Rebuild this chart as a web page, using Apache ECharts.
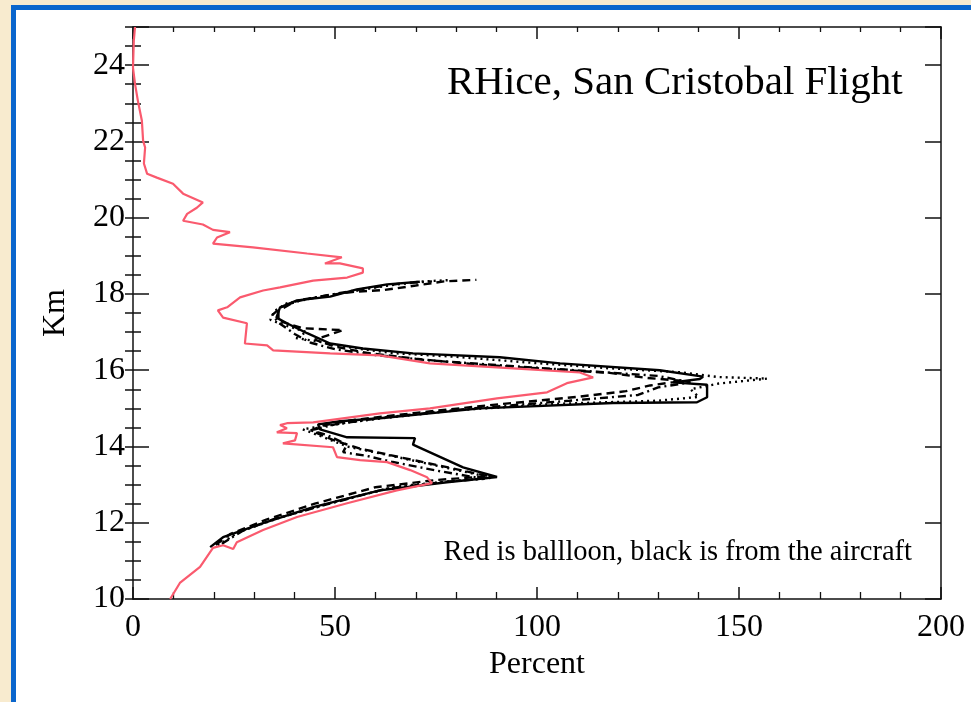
<!DOCTYPE html>
<html>
<head>
<meta charset="utf-8">
<title>RHice, San Cristobal Flight</title>
<script src="https://cdn.jsdelivr.net/npm/echarts@6/dist/echarts.min.js"></script>
<style>
  html, body { margin: 0; padding: 0; }
  body { width: 971px; height: 702px; background: #f8ebcf; position: relative; overflow: hidden; }
  #frame { position: absolute; left: 11px; top: 5px; right: 0; bottom: 0; background: #fff;
           border-left: 5px solid #0b66cc; border-top: 5px solid #0b66cc; }
  #chart { position: absolute; left: 0; top: 0; width: 971px; height: 702px; }
</style>
</head>
<body>
<div id="frame"></div>
<div id="chart"></div>
<script>
// [percent, km] pairs, bottom to top
const balloon = [
  [9.2, 10.0], [11.6, 10.42], [16.6, 10.84], [19.8, 11.34], [22.3, 11.41], [24.8, 11.31], [25.7, 11.49],
  [32.2, 11.81], [40.6, 12.15], [53.0, 12.51], [65.3, 12.85], [74.0, 13.04], [72.8, 13.19], [68.6, 13.38],
  [62.9, 13.59], [56.2, 13.64], [50.5, 13.72], [49.5, 13.98], [37.1, 14.08], [40.1, 14.16], [40.6, 14.35],
  [35.6, 14.37], [38.1, 14.48], [36.4, 14.56], [38.1, 14.61], [44.6, 14.63], [61.1, 14.87], [73.5, 15.0],
  [90.1, 15.26], [102.5, 15.42], [107.4, 15.66], [113.9, 15.81], [110.6, 15.94], [94.1, 16.05], [73.5, 16.18],
  [61.1, 16.39], [48.8, 16.44], [34.7, 16.52], [33.2, 16.65], [27.7, 16.70], [28.2, 17.23], [22.3, 17.38],
  [21.0, 17.57], [23.3, 17.65], [26.5, 17.91], [32.2, 18.09], [36.4, 18.17], [44.6, 18.35], [53.0, 18.43],
  [56.9, 18.56], [56.9, 18.67], [51.2, 18.80], [47.5, 18.8], [51.7, 18.96], [43.1, 19.06], [29.7, 19.22],
  [19.8, 19.32], [20.8, 19.48], [24.0, 19.62], [19.8, 19.68], [17.3, 19.82], [12.4, 19.92], [13.4, 20.1],
  [15.8, 20.26], [17.3, 20.40], [12.4, 20.63], [9.9, 20.89], [5.9, 21.05], [3.5, 21.15], [2.7, 21.42],
  [3.0, 21.84], [2.5, 22.02], [2.2, 22.54], [1.2, 23.07], [0.5, 23.51], [0.0, 23.93], [0.2, 24.64], [0.5, 25.0]
];

const aircraftSolid = [
  [19.1, 11.36], [22.3, 11.62], [32.2, 11.99], [44.6, 12.41], [61.1, 12.85], [77.7, 13.06], [90.1, 13.2],
  [81.7, 13.45], [69.3, 14.05], [69.8, 14.22], [53.0, 14.24], [46.3, 14.45], [45.8, 14.58], [51.2, 14.66],
  [61.1, 14.74], [85.9, 15.0], [118.8, 15.14], [139.6, 15.16], [142.1, 15.29], [142.1, 15.62], [133.7, 15.68],
  [140.3, 15.77], [141.1, 15.83], [130.4, 16.0], [105.7, 16.18], [90.8, 16.34], [69.3, 16.44], [56.9, 16.57],
  [48.8, 16.70], [43.1, 16.97], [38.1, 17.23], [35.5, 17.38], [36.4, 17.65], [40.6, 17.83], [48.8, 17.93],
  [55.4, 18.12], [62.9, 18.25], [71.0, 18.32]
];

const aircraftDashed = [
  [20.5, 11.42], [24.0, 11.7], [33.0, 12.08], [45.0, 12.5], [60.0, 12.93], [75.0, 13.12], [88.0, 13.22],
  [78.0, 13.45], [66.0, 13.72], [56.0, 13.95], [50.0, 14.15], [44.0, 14.42], [47.0, 14.55], [55.0, 14.7],
  [70.0, 14.88], [88.0, 15.08], [110.0, 15.3], [122.0, 15.45], [128.0, 15.6], [136.0, 15.72], [127.0, 15.8],
  [118.0, 15.93], [100.0, 16.05], [85.0, 16.15], [70.0, 16.3], [58.0, 16.45], [50.0, 16.62], [45.0, 16.8],
  [52.0, 17.05], [42.0, 17.1], [36.0, 17.3], [36.0, 17.55], [40.0, 17.8], [48.0, 17.96], [55.0, 18.06],
  [62.0, 18.1], [70.0, 18.22], [77.0, 18.33], [85.0, 18.37]
];

const aircraftDotted = [
  [21.0, 11.4], [26.0, 11.75], [36.0, 12.12], [50.0, 12.55], [65.0, 12.95], [80.0, 13.1], [89.0, 13.18],
  [75.0, 13.5], [62.0, 13.8], [53.0, 14.0], [47.0, 14.25], [42.0, 14.45], [48.0, 14.55], [60.0, 14.72],
  [80.0, 14.95], [105.0, 15.12], [130.0, 15.2], [140.0, 15.3], [138.0, 15.5], [145.0, 15.65], [157.0, 15.78],
  [145.0, 15.82], [135.0, 15.95], [118.0, 16.05], [98.0, 16.2], [80.0, 16.35], [64.0, 16.45], [52.0, 16.62],
  [46.0, 16.75], [40.0, 16.85], [43.0, 17.0], [37.0, 17.2], [34.0, 17.32], [35.0, 17.55], [38.0, 17.75],
  [45.0, 17.9], [55.0, 18.08], [63.0, 18.22], [72.0, 18.33], [78.0, 18.36]
];

const aircraftDashDot = [
  [22.0, 11.45], [27.0, 11.78], [35.0, 12.1], [48.0, 12.48], [63.0, 12.9], [78.0, 13.08], [87.0, 13.15],
  [76.0, 13.35], [64.0, 13.6], [58.0, 13.75], [52.0, 13.85], [53.0, 14.05], [48.0, 14.3], [44.0, 14.42],
  [50.0, 14.58], [62.0, 14.76], [82.0, 14.98], [108.0, 15.2], [125.0, 15.35], [130.0, 15.55], [138.0, 15.68],
  [130.0, 15.85], [112.0, 15.98], [92.0, 16.12], [72.0, 16.27], [60.0, 16.4], [50.0, 16.55], [44.0, 16.72],
  [40.0, 16.95], [36.0, 17.25], [34.5, 17.45], [37.0, 17.68], [42.0, 17.85], [50.0, 18.0], [58.0, 18.15],
  [66.0, 18.27], [74.0, 18.33]
];

const titleText = 'RHice, San Cristobal Flight';
const noteText = 'Red is ballloon, black is from the aircraft';

const serif = 'Liberation Serif';
const ink = '#111';

const chart = echarts.init(document.getElementById('chart'), null, { renderer: 'canvas' });

const lineSeries = (name, data, color, dash, width) => ({
  name: name,
  type: 'line',
  data: data,
  symbol: 'none',
  silent: true,
  lineStyle: { color: color, width: width, type: dash }
});

const hideY = { show: false };

chart.setOption({
  animation: false,
  grid: { left: 133, right: 30, top: 27, bottom: 103 },
  xAxis: [
    {
      type: 'value', position: 'bottom', min: 0, max: 200, interval: 50,
      axisLine: { onZero: false, lineStyle: { color: ink, width: 1.5 } },
      axisTick: { inside: true, length: 12, lineStyle: { color: ink, width: 1.5 } },
      minorTick: { show: true, splitNumber: 5, length: 7, lineStyle: { color: ink, width: 1.3 } },
      splitLine: { show: false },
      axisLabel: { fontFamily: serif, fontSize: 32, color: '#000', margin: 13 },
      name: 'Percent', nameLocation: 'middle', nameGap: 49,
      nameTextStyle: { fontFamily: serif, fontSize: 32, color: '#000' }
    },
    {
      type: 'value', position: 'top', min: 0, max: 200, interval: 50,
      axisLine: { onZero: false, lineStyle: { color: ink, width: 1.5 } },
      axisTick: { inside: true, length: 12, lineStyle: { color: ink, width: 1.5 } },
      minorTick: { show: true, splitNumber: 5, length: 5, lineStyle: { color: ink, width: 1.3 } },
      splitLine: { show: false },
      axisLabel: { show: false }
    }
  ],
  yAxis: [
    {
      type: 'value', position: 'left', min: 10, max: 25, interval: 2,
      axisLine: { onZero: false, lineStyle: { color: ink, width: 1.5 } },
      axisTick: { inside: true, length: 16, lineStyle: { color: ink, width: 1.5 } },
      splitLine: { show: false },
      axisLabel: {
        fontFamily: serif, fontSize: 32, color: '#000', margin: 8,
        formatter: v => (v % 2 === 0 ? String(v) : '')
      },
      name: 'Km', nameLocation: 'middle', nameGap: 61,
      nameTextStyle: { fontFamily: serif, fontSize: 32, color: '#000' }
    },
    {
      // minor ticks every 0.5 km, left side
      type: 'value', position: 'left', min: 10, max: 25, interval: 0.5,
      axisLine: hideY, splitLine: hideY, axisLabel: hideY,
      axisTick: { inside: true, length: 8, lineStyle: { color: ink, width: 1.5 } }
    },
    {
      type: 'value', position: 'right', min: 10, max: 25, interval: 2,
      axisLine: { onZero: false, lineStyle: { color: ink, width: 1.5 } },
      axisTick: { inside: true, length: 16, lineStyle: { color: ink, width: 1.5 } },
      splitLine: hideY, axisLabel: hideY
    },
    {
      type: 'value', position: 'right', min: 10, max: 25, interval: 0.5,
      axisLine: hideY, splitLine: hideY, axisLabel: hideY,
      axisTick: { inside: true, length: 8, lineStyle: { color: ink, width: 1.5 } }
    }
  ],
  series: [
    lineSeries('aircraft solid', aircraftSolid, '#000', 'solid', 2.4),
    lineSeries('aircraft dashed', aircraftDashed, '#000', [8, 5], 2.4),
    lineSeries('aircraft dotted', aircraftDotted, '#000', [2, 4], 2.4),
    lineSeries('aircraft dash-dot', aircraftDashDot, '#000', [8, 4, 2, 4], 2.4),
    lineSeries('balloon', balloon, '#fa5a6e', 'solid', 2.2)
  ],
  graphic: [
    {
      type: 'text', x: 447, y: 83, silent: true,
      style: { text: titleText, font: '41px "Liberation Serif"', fill: '#000', align: 'left', verticalAlign: 'middle' }
    },
    {
      type: 'text', x: 912, y: 553, silent: true,
      style: { text: noteText, font: '28.5px "Liberation Serif"', fill: '#000', align: 'right', verticalAlign: 'middle' }
    }
  ]
});
</script>
</body>
</html>
